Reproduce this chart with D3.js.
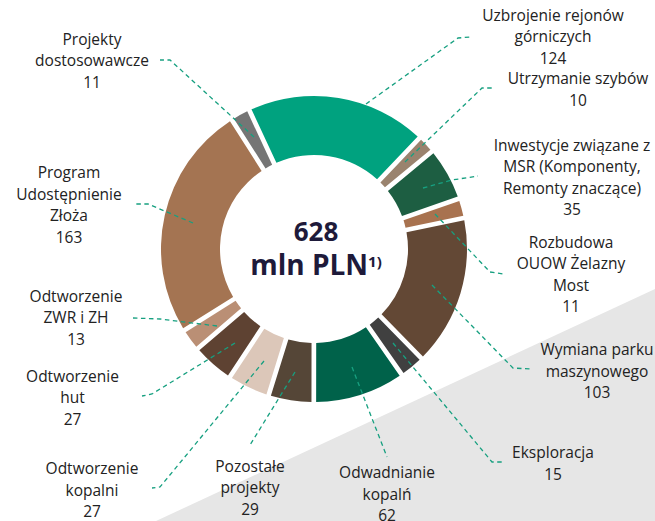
<!DOCTYPE html>
<html>
<head>
<meta charset="utf-8">
<script src="https://cdn.jsdelivr.net/npm/d3@7"></script>
<style>
  html, body { margin: 0; padding: 0; background: #ffffff; }
  svg { display: block; }
  text { font-family: "Open Sans", "Noto Sans", sans-serif; }
</style>
</head>
<body>
<div id="chart"></div>
<script>
// ---- data ----
const categories = [
  "Uzbrojenie rejonów|górniczych",
  "Utrzymanie szybów",
  "Inwestycje związane z|MSR (Komponenty,|Remonty znaczące)",
  "Rozbudowa|OUOW Żelazny|Most",
  "Wymiana parku|maszynowego",
  "Eksploracja",
  "Odwadnianie|kopalń",
  "Pozostałe|projekty",
  "Odtworzenie|kopalni",
  "Odtworzenie|hut",
  "Odtworzenie|ZWR i ZH",
  "Program|Udostępnienie|Złoża",
  "Projekty|dostosowawcze"
];
const values = [124, 10, 35, 11, 103, 15, 62, 29, 27, 27, 13, 163, 11];
const colors = [
  "#00a27f", "#9a836e", "#1d5e42", "#a8724f", "#634835", "#404040", "#00624a",
  "#554637", "#dcc7b9", "#5e4232", "#ba8f75", "#a47452", "#757575"
];
const totalLabel = "628";
const unitLabel = "mln PLN";
const unitNote = "1)";

// ---- layout (annotation positions, not data) ----
const W = 655, H = 521;
const cx = 314, cy = 249;
const rOuter = 153, rInner = 94;
const labelPos = [
  [553, 15.5], [578, 79], [572, 145.5], [571, 242.5], [597, 350], [553, 453],
  [387, 473], [250, 466.5], [92, 469], [72.5, 376.5], [76, 296.5], [69, 173], [92, 39.5]
];
const leaderPts = [
  [[366,104],[458,38],[470,37]],
  [[405,162],[482,88],[495,88]],
  [[423,188],[452,180],[478,176]],
  [[435,214],[490,272],[503,274]],
  [[432,285],[513,368],[530,369]],
  [[393,343],[492,462],[502,462]],
  [[352,367],[387,457]],
  [[295,372],[250,445]],
  [[264,361],[160,487],[152,488]],
  [[235,343],[152,394],[142,396]],
  [[217,326],[160,319],[133,318]],
  [[193,223],[148,204],[135,204]],
  [[254,137],[170,60],[160,60]]
];

const svg = d3.select("#chart").append("svg")
  .attr("width", W).attr("height", H);

// grey diagonal background
svg.append("polygon")
  .attr("points", [[156, H], [W, 289], [W, H]].map(p => p.join(",")).join(" "))
  .attr("fill", "#e6e6e6");

// donut
const deg = Math.PI / 180;
const pie = d3.pie().sort(null).value(d => d)
  .startAngle(-25 * deg).endAngle(335 * deg).padAngle(0.026);
const arc = d3.arc().innerRadius(rInner).outerRadius(rOuter);
const arcs = pie(values);

const g = svg.append("g").attr("transform", `translate(${cx},${cy})`);
g.selectAll("path.slice").data(arcs).join("path")
  .attr("class", "slice")
  .attr("d", arc)
  .attr("fill", (d, i) => colors[i]);

// leader lines
const line = d3.line();
svg.append("g").selectAll("path").data(leaderPts).join("path")
  .attr("d", d => line(d))
  .attr("fill", "none")
  .attr("stroke", "#17a080")
  .attr("stroke-width", 1.3)
  .attr("stroke-dasharray", "4.5,3.5");

// labels
const lh = 21.5;
const lbl = svg.append("g");
categories.forEach((c, i) => {
  const lines = c.split("|").concat([String(values[i])]);
  const t = lbl.append("text")
    .attr("x", labelPos[i][0]).attr("y", labelPos[i][1])
    .attr("text-anchor", "middle")
    .attr("font-size", 15.5)
    .attr("fill", "#222222");
  lines.forEach((ln, j) => {
    t.append("tspan")
      .attr("x", labelPos[i][0])
      .attr("y", labelPos[i][1] + j * lh)
      .attr("dy", "0.35em")
      .text(ln);
  });
});

// center text
svg.append("text")
  .attr("x", cx + 2).attr("y", 241)
  .attr("text-anchor", "middle")
  .attr("font-size", 26).attr("font-weight", 700)
  .attr("fill", "#1e1a3a")
  .text(totalLabel);
const ct = svg.append("text")
  .attr("x", cx + 2).attr("y", 275)
  .attr("text-anchor", "middle")
  .attr("font-size", 28).attr("font-weight", 700)
  .attr("fill", "#1e1a3a");
ct.append("tspan").text(unitLabel);
ct.append("tspan").attr("font-size", 15).attr("dy", -8).text(unitNote);
</script>
</body>
</html>
